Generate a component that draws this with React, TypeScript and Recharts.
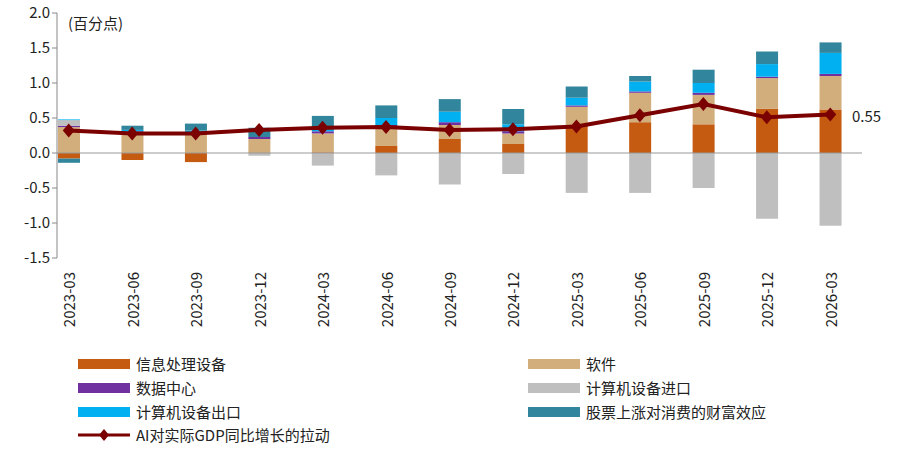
import { ComposedChart, Bar, Line, XAxis, YAxis, ReferenceLine } from "recharts";

const quarters = ["2023-03","2023-06","2023-09","2023-12","2024-03","2024-06","2024-09","2024-12","2025-03","2025-06","2025-09","2025-12","2026-03"];
const equipment = [-0.08,-0.1,-0.13,0.0,0.01,0.1,0.2,0.13,0.4,0.44,0.41,0.63,0.62];
const software = [0.37,0.28,0.27,0.2,0.27,0.28,0.2,0.15,0.26,0.42,0.42,0.44,0.48];
const dataCenter = [0.02,0.03,0.03,0.03,0.03,0.02,0.04,0.03,0.02,0.02,0.03,0.02,0.03];
const imports = [0.08,0,0,-0.04,-0.18,-0.32,-0.45,-0.3,-0.57,-0.57,-0.5,-0.94,-1.04];
const exportsArr = [0.01,0.02,0.02,0.0,0.02,0.1,0.15,0.1,0.11,0.14,0.14,0.18,0.3];
const wealth = [-0.06,0.06,0.1,0.13,0.2,0.18,0.18,0.22,0.16,0.08,0.19,0.18,0.15];
const aiPull = [0.32,0.28,0.28,0.33,0.36,0.37,0.33,0.34,0.38,0.54,0.7,0.51,0.55];

const data = quarters.map((q, i) => ({
  q, equipment: equipment[i], software: software[i], dataCenter: dataCenter[i],
  imports: imports[i], exports: exportsArr[i], wealth: wealth[i], aiPull: aiPull[i],
}));

const font = "'Microsoft YaHei','Noto Sans CJK SC',sans-serif";

const legendItems = [
  { name: "信息处理设备", color: "#C55A11", x: 78, y: 363 },
  { name: "软件", color: "#D2AE7C", x: 528, y: 363 },
  { name: "数据中心", color: "#7030A0", x: 78, y: 387 },
  { name: "计算机设备进口", color: "#BFBFBF", x: 528, y: 387 },
  { name: "计算机设备出口", color: "#00B0F0", x: 78, y: 411 },
  { name: "股票上涨对消费的财富效应", color: "#31859C", x: 528, y: 411 },
];

const Tick = ({ x, y, payload }: any) => (
  <text x={x} y={y + 6} transform={`rotate(-90 ${x} ${y + 6})`} textAnchor="end" dominantBaseline="central" fontSize={15} fill="#222" fontFamily={font}>
    {payload.value}
  </text>
);

const Diamond = ({ cx, cy }: any) => (
  <path d={`M${cx},${cy - 7} L${cx + 6},${cy} L${cx},${cy + 7} L${cx - 6},${cy} Z`} fill="#7B0000" />
);

export default function App() {
  return (
    <div style={{ position: "absolute", left: 0, top: 0, width: 900, height: 451, background: "#fff", fontFamily: font }}>
      <ComposedChart width={900} height={340} data={data} stackOffset="sign" barSize={22}
        margin={{ top: 13, right: 38, left: 0, bottom: 0 }}>
        <XAxis dataKey="q" height={82} tick={<Tick />} axisLine={false} tickLine={false} interval={0} padding={{ left: -20, right: 0 }} />
        <YAxis width={57} domain={[-1.5, 2]} ticks={[-1.5,-1,-0.5,0,0.5,1,1.5,2]}
          tickFormatter={(v) => v.toFixed(1)} tick={{ fontSize: 15, fill: "#222", fontFamily: font }}
          axisLine={{ stroke: "#888" }} tickLine={{ stroke: "#888" }} tickSize={5} />
        <ReferenceLine y={0} stroke="#999" />
        <Bar dataKey="equipment" stackId="a" fill="#C55A11" isAnimationActive={false} />
        <Bar dataKey="software" stackId="a" fill="#D2AE7C" isAnimationActive={false} />
        <Bar dataKey="dataCenter" stackId="a" fill="#7030A0" isAnimationActive={false} />
        <Bar dataKey="imports" stackId="a" fill="#BFBFBF" isAnimationActive={false} />
        <Bar dataKey="exports" stackId="a" fill="#00B0F0" isAnimationActive={false} />
        <Bar dataKey="wealth" stackId="a" fill="#31859C" isAnimationActive={false} />
        <Line dataKey="aiPull" type="linear" stroke="#7B0000" strokeWidth={4} dot={<Diamond />} isAnimationActive={false} />
      </ComposedChart>
      <div style={{ position: "absolute", left: 68, top: 12, fontSize: 15, color: "#222" }}>(百分点)</div>
      <div style={{ position: "absolute", left: 852, top: 105, fontSize: 15, color: "#222" }}>0.55</div>
      {legendItems.map((it) => (
        <div key={it.name} style={{ position: "absolute", left: it.x, top: it.y - 10, display: "flex", alignItems: "center", fontSize: 15, color: "#222" }}>
          <span style={{ display: "inline-block", width: 52, height: 10, background: it.color, marginRight: 6 }} />
          {it.name}
        </div>
      ))}
      <div style={{ position: "absolute", left: 78, top: 424, display: "flex", alignItems: "center", fontSize: 15, color: "#222" }}>
        <svg width={52} height={14} style={{ marginRight: 6 }}>
          <line x1={0} y1={7} x2={52} y2={7} stroke="#7B0000" strokeWidth={3} />
          <path d="M26,1 L31,7 L26,13 L21,7 Z" fill="#7B0000" />
        </svg>
        AI对实际GDP同比增长的拉动
      </div>
    </div>
  );
}
